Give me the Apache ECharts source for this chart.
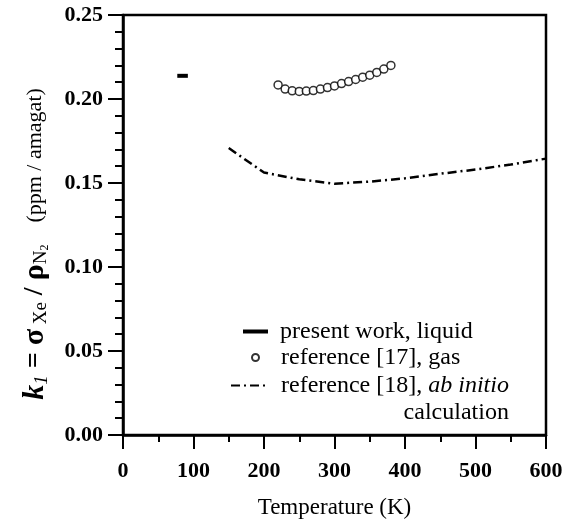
<!DOCTYPE html>
<html>
<head>
<meta charset="utf-8">
<script src="https://cdn.jsdelivr.net/npm/echarts@6/dist/echarts.min.js"></script>
<style>
  html, body { margin: 0; padding: 0; background: #fff; }
  #chart { width: 574px; height: 524px; }
</style>
</head>
<body>
<div id="chart"></div>
<script>
// present work, liquid (short bar)
const liquidData = [[77, 0.2138], [92, 0.2138]]

// reference [17], gas
const gasTemp = [220, 230, 240, 250, 260, 270, 280, 290, 300, 310, 320, 330, 340, 350, 360, 370, 380]
const gasK1 = [0.2084, 0.2059, 0.2049, 0.2045, 0.2047, 0.2050, 0.2059, 0.2068, 0.2078, 0.2092, 0.2104, 0.2116, 0.2130, 0.2142, 0.2158, 0.2178, 0.2200]

// reference [18], ab initio calculation
const abTemp = [150, 200, 250, 300, 350, 400, 450, 500, 550, 600]
const abK1 = [0.1708, 0.1562, 0.1522, 0.1496, 0.1508, 0.1528, 0.1555, 0.1580, 0.1610, 0.1645]

const xTicks = [0, 100, 200, 300, 400, 500, 600]
const yTicks = [0, 0.05, 0.10, 0.15, 0.20, 0.25]

const font = 'Liberation Serif'
const legendText = { fontFamily: font, fontSize: 24, color: '#000', lineHeight: 27 }

const chart = echarts.init(document.getElementById('chart'))

chart.setOption({
  animation: false,
  backgroundColor: '#fff',
  grid: {
    left: 123,
    right: 28,
    top: 15,
    bottom: 88,
    show: true,
    borderColor: '#000',
    borderWidth: 2.5
  },
  legend: [
    {
      left: 243,
      top: 318,
      padding: 0,
      itemWidth: 25,
      itemHeight: 4,
      data: [{ name: 'present work, liquid', icon: 'rect' }],
      textStyle: Object.assign({}, legendText, { padding: [0, 0, 0, 7] })
    },
    {
      left: 251,
      top: 344,
      padding: 0,
      itemWidth: 7,
      itemHeight: 7,
      data: ['reference [17], gas'],
      textStyle: Object.assign({}, legendText, { padding: [0, 0, 0, 17] })
    },
    {
      left: 230,
      top: 345,
      padding: 0,
      itemWidth: 38,
      itemHeight: 10,
      itemStyle: { opacity: 0 },
      data: ['reference [18], ab initio calculation'],
      formatter: function () {
        return 'reference [18], {it|ab initio}\n{r|calculation}'
      },
      textStyle: Object.assign({}, legendText, {
        padding: [27, 0, 0, 7],
        rich: {
          it: { fontFamily: font, fontSize: 24, fontStyle: 'italic', color: '#000', lineHeight: 27 },
          r: { fontFamily: font, fontSize: 24, color: '#000', align: 'right', lineHeight: 27 }
        }
      })
    }
  ],
  xAxis: {
    type: 'value',
    min: 0,
    max: 600,
    interval: 100,
    name: 'Temperature (K)',
    nameLocation: 'middle',
    nameGap: 61,
    nameTextStyle: { fontFamily: font, fontSize: 23, color: '#000' },
    axisLine: { lineStyle: { color: '#000', width: 2.5 } },
    axisTick: { length: 14, lineStyle: { color: '#000', width: 2 } },
    minorTick: { show: true, splitNumber: 2, length: 7, lineStyle: { color: '#000', width: 2 } },
    splitLine: { show: false },
    axisLabel: {
      margin: 25,
      fontFamily: font,
      fontSize: 22,
      fontWeight: 'bold',
      color: '#000',
      customValues: xTicks
    }
  },
  yAxis: {
    type: 'value',
    min: 0,
    max: 0.25,
    interval: 0.05,
    name: '{ki|k}{s1|1}{m| = }{g|σ}{sx| Xe}{m| / }{g|ρ}{sn|N}{s2|2}{u|    (ppm / amagat)}',
    nameLocation: 'middle',
    nameGap: 72,
    nameRotate: 90,
    nameTextStyle: {
      fontFamily: font,
      color: '#000',
      padding: [0, 38, 0, 0],
      rich: {
        ki: { fontFamily: font, fontSize: 30, fontStyle: 'italic', fontWeight: 'bold', color: '#000', lineHeight: 32 },
        s1: { fontFamily: font, fontSize: 19, fontStyle: 'italic', color: '#000', verticalAlign: 'bottom', lineHeight: 18 },
        m: { fontFamily: font, fontSize: 28, fontWeight: 'bold', color: '#000', lineHeight: 32 },
        g: { fontFamily: font, fontSize: 30, fontWeight: 'bold', color: '#000', lineHeight: 32 },
        sx: { fontFamily: font, fontSize: 19, color: '#000', verticalAlign: 'bottom', lineHeight: 20 },
        sn: { fontFamily: font, fontSize: 19, color: '#000', verticalAlign: 'bottom', lineHeight: 20 },
        s2: { fontFamily: font, fontSize: 12, color: '#000', verticalAlign: 'bottom', lineHeight: 11 },
        u: { fontFamily: font, fontSize: 22, color: '#000', lineHeight: 32 }
      }
    },
    axisLine: { lineStyle: { color: '#000', width: 2.5 } },
    axisTick: { length: 15, lineStyle: { color: '#000', width: 2 } },
    minorTick: { show: true, splitNumber: 5, length: 8, lineStyle: { color: '#000', width: 2 } },
    splitLine: { show: false },
    axisLabel: {
      margin: 20,
      fontFamily: font,
      fontSize: 22,
      fontWeight: 'bold',
      color: '#000',
      customValues: yTicks,
      formatter: function (v) { return v.toFixed(2) }
    }
  },
  series: [
    {
      name: 'present work, liquid',
      type: 'line',
      data: liquidData,
      symbol: 'none',
      color: '#000',
      lineStyle: { color: '#000', width: 4 }
    },
    {
      name: 'reference [17], gas',
      type: 'scatter',
      data: gasTemp.map((t, i) => [t, gasK1[i]]),
      symbol: 'circle',
      symbolSize: 8,
      color: '#000',
      itemStyle: { color: '#fff', borderColor: '#000', borderWidth: 1.5 }
    },
    {
      name: 'reference [18], ab initio calculation',
      type: 'line',
      data: abTemp.map((t, i) => [t, abK1[i]]),
      symbol: 'none',
      color: '#000',
      lineStyle: { color: '#000', width: 2.5, type: [9, 4, 2, 4] }
    }
  ]
})
</script>
</body>
</html>
